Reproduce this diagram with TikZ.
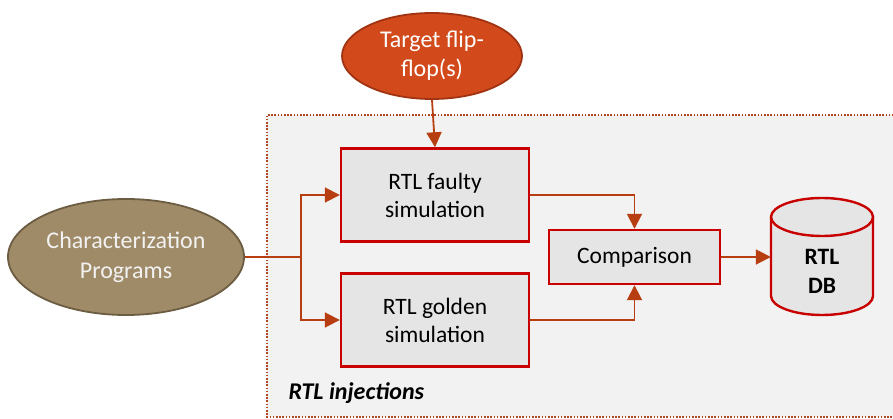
\documentclass[tikz,border=0pt]{standalone}
\usepackage{fontspec}
\setmainfont{Carlito}
\usetikzlibrary{arrows.meta,shapes.geometric}
\definecolor{arrowc}{RGB}{183,62,16}
\definecolor{tgtfill}{RGB}{210,74,27}
\definecolor{tgtdraw}{RGB}{160,52,18}
\definecolor{chfill}{RGB}{160,139,104}
\definecolor{chdraw}{RGB}{108,93,66}
\definecolor{boxdraw}{RGB}{200,0,0}
\definecolor{boxfill}{RGB}{230,229,230}
\definecolor{bgfill}{RGB}{242,242,242}
\definecolor{regdraw}{RGB}{178,72,34}
\tikzset{
  procbox/.style={draw=boxdraw, fill=boxfill, line width=2.4pt, inner sep=0pt, align=center, font=\fontsize{23.5}{28}\selectfont, text=black},
  conn/.style={draw=arrowc, line width=1.8pt, -{Triangle[length=15pt,width=15pt]}},
  plainconn/.style={draw=arrowc, line width=1.8pt},
}
\begin{document}
\begin{tikzpicture}[x=1pt,y=-1pt]
\useasboundingbox (0,0) rectangle (893,419);
% region
\fill[bgfill] (267,115) rectangle (900,417);
\draw[regdraw, line width=1.6pt, dash pattern=on 1.6pt off 1.6pt] (900,115) -- (267,115) -- (267,417) -- (900,417);
\node[anchor=west, font=\fontsize{24}{28}\selectfont\bfseries\itshape] (lab) at (285,393) {RTL injections};
% ellipses
\node[ellipse, draw=tgtdraw, fill=tgtfill, line width=1.8pt, minimum width=180pt, minimum height=86pt, inner sep=0pt, text=white, align=center, font=\fontsize{24}{29}\selectfont] (tgt) at (432,56) {Target flip-\\flop(s)};
\node[ellipse, draw=chdraw, fill=chfill, line width=1.8pt, minimum width=236pt, minimum height=116pt, inner sep=0pt, text=white!95!black, align=center, font=\fontsize{24}{30}\selectfont] (char) at (126,257) {Characterization\\Programs};
% boxes
\node[procbox, minimum width=188pt, minimum height=93pt] (faulty) at (435,195) {RTL faulty\\simulation};
\node[procbox, minimum width=188pt, minimum height=93pt] (golden) at (435,320) {RTL golden\\simulation};
\node[procbox, minimum width=171pt, minimum height=54pt] (cmp) at (634.5,257) {Comparison};
% database cylinder
\node[minimum width=102pt, minimum height=117pt, inner sep=0pt] (db) at (822,256.5) {};
\fill[boxfill] (771,217) -- (771,296) arc[start angle=180,end angle=0,x radius=51,y radius=19] -- (873,217) arc[start angle=0,end angle=-180,x radius=51,y radius=19] -- cycle;
\draw[boxdraw, line width=2.4pt] (771,217) -- (771,296) arc[start angle=180,end angle=0,x radius=51,y radius=19] -- (873,217);
\draw[boxdraw, line width=2.4pt] (822,217) ellipse[x radius=51, y radius=19];
\node[align=center, font=\fontsize{23.5}{29}\selectfont\bfseries] (dbtext) at (822,271) {RTL\\DB};
% connectors
\coordinate (split) at (301,257);
\draw[conn] (tgt.south) -- (faulty.north);
\draw[plainconn] (char.east) -- (split);
\draw[conn] (split) |- (faulty.west);
\draw[conn] (split) |- (golden.west);
\draw[conn] (faulty.east) -| (cmp.north);
\draw[conn] (golden.east) -| (cmp.south);
\draw[conn] (cmp.east) -- (db.west |- cmp.east);
\end{tikzpicture}
\end{document}
